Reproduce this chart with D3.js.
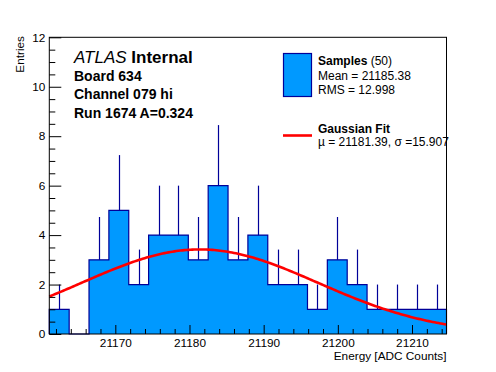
<!DOCTYPE html>
<html>
<head>
<meta charset="utf-8">
<script src="https://cdn.jsdelivr.net/npm/d3@7"></script>
<style>
  body { margin: 0; background: #fff; }
  svg { display: block; font-family: "Liberation Sans", Arial, sans-serif; }
</style>
</head>
<body>
<svg id="chart" width="496" height="372"></svg>
<script>
// Histogram data (20 bins over the axis range)
const xRange = [21161.1, 21214.65];
const binCounts = [1, 0, 3, 5, 2, 4, 4, 3, 6, 3, 4, 2, 2, 1, 3, 2, 1, 1, 1, 1];
const xMajorTicks = [21170, 21180, 21190, 21200, 21210];
const yMajorTicks = [0, 2, 4, 6, 8, 10, 12];

// Gaussian fit parameters
const fitMu = 21181.39;
const fitSigma = 15.907;
const fitAmp = 3.42;

const infoLines = ["Board 634", "Channel 079 hi", "Run 1674 A=0.324"];

//Frame geometry
const frameL = 49.3, frameR = 446.5, frameT = 37.3, frameB = 334;
const svg = d3.select("#chart");

const x = d3.scaleLinear().domain(xRange).range([frameL, frameR]);
const y = d3.scaleLinear().domain([0, 12]).range([frameB, frameT]);

const nBins = binCounts.length;
const binW = (xRange[1] - xRange[0]) / nBins;
const bins = binCounts.map((c, i) => ({
  x0: xRange[0] + i * binW,
  x1: xRange[0] + (i + 1) * binW,
  n: c
}));

//Histogram as a filled step outline
const stepPts = [[bins[0].x0, 0]];
bins.forEach((b) => {
  stepPts.push([b.x0, b.n]);
  stepPts.push([b.x1, b.n]);
});
stepPts.push([bins[nBins - 1].x1, 0]);

svg.append("path")
  .attr("d", d3.line().x((d) => x(d[0])).y((d) => y(d[1]))(stepPts))
  .attr("fill", "#0099ff")
  .attr("stroke", "#000099")
  .attr("stroke-width", 1.2);

//Error bars (upper half only visible)
svg.append("g")
  .selectAll("line")
  .data(bins.filter((b) => b.n > 0))
  .join("line")
  .attr("x1", (b) => Math.round(x((b.x0 + b.x1) / 2)) + 0.5)
  .attr("x2", (b) => Math.round(x((b.x0 + b.x1) / 2)) + 0.5)
  .attr("y1", (b) => y(b.n))
  .attr("y2", (b) => y(b.n + Math.sqrt(b.n)))
  .attr("stroke", "#000099")
  .attr("stroke-width", 1.2);

//Gaussian fit curve
const fitXs = d3.range(0, 201).map((i) => xRange[0] + (i / 200) * (xRange[1] - xRange[0]));
svg.append("path")
  .attr("d", d3.line()
    .x((v) => x(v))
    .y((v) => y(fitAmp * Math.exp(-((v - fitMu) ** 2) / (2 * fitSigma ** 2))))(fitXs))
  .attr("fill", "none")
  .attr("stroke", "#ff0000")
  .attr("stroke-width", 2.6);

//Frame
svg.append("rect")
  .attr("x", frameL).attr("y", frameT)
  .attr("width", frameR - frameL).attr("height", frameB - frameT)
  .attr("fill", "none").attr("stroke", "#000").attr("stroke-width", 1);

//Axes: ticks point inward
const xMinor = d3.range(21162, 21215, 2).filter((v) => v % 10 !== 0);
svg.append("g")
  .attr("transform", `translate(0,${frameB})`)
  .call(d3.axisBottom(x).tickValues(xMinor).tickSize(-5).tickFormat(""))
  .call((g) => g.select(".domain").remove());
svg.append("g")
  .attr("transform", `translate(0,${frameB})`)
  .call(d3.axisBottom(x).tickValues(xMajorTicks).tickSize(-9).tickPadding(4.5).tickFormat(d3.format("d")))
  .call((g) => g.select(".domain").remove())
  .call((g) => g.selectAll("text").attr("font-size", 11.8).attr("fill", "#000").attr("font-family", "Liberation Sans, Arial, sans-serif"));

const yMinor = d3.range(0, 12.01, 0.5).filter((v) => v % 2 !== 0);
svg.append("g")
  .attr("transform", `translate(${frameL},0)`)
  .call(d3.axisLeft(y).tickValues(yMinor).tickSize(-6).tickFormat(""))
  .call((g) => g.select(".domain").remove());
svg.append("g")
  .attr("transform", `translate(${frameL},0)`)
  .call(d3.axisLeft(y).tickValues(yMajorTicks).tickSize(-12).tickPadding(4).tickFormat(d3.format("d")))
  .call((g) => g.select(".domain").remove())
  .call((g) => g.selectAll("text").attr("font-size", 11.8).attr("fill", "#000").attr("font-family", "Liberation Sans, Arial, sans-serif"));

//Axis titles
svg.append("text")
  .attr("x", frameR).attr("y", 359.5)
  .attr("text-anchor", "end")
  .attr("font-size", 11.8)
  .text("Energy [ADC Counts]");

svg.append("text")
  .attr("transform", `translate(24,36) rotate(-90)`)
  .attr("text-anchor", "end")
  .attr("font-size", 11.8)
  .text("Entries");

//ATLAS label
const atlas = svg.append("text").attr("x", 74).attr("y", 62.5).attr("font-size", 17);
atlas.append("tspan").attr("font-style", "italic").text("ATLAS ");
atlas.append("tspan").attr("font-weight", "bold").text("Internal");

svg.append("g")
  .selectAll("text")
  .data(infoLines)
  .join("text")
  .attr("x", 74)
  .attr("y", (d, i) => 80.5 + i * 18.8)
  .attr("font-size", 14)
  .attr("font-weight", "bold")
  .text((d) => d);

//Legend
const leg = svg.append("g").attr("font-size", 12);
leg.append("rect")
  .attr("x", 283.5).attr("y", 53.5).attr("width", 28).attr("height", 43)
  .attr("fill", "#0099ff").attr("stroke", "#000099").attr("stroke-width", 1.2);
const s1 = leg.append("text").attr("x", 318).attr("y", 65);
s1.append("tspan").attr("font-weight", "bold").text("Samples");
s1.append("tspan").text(" (50)");
leg.append("text").attr("x", 318).attr("y", 79.5).text("Mean = 21185.38");
leg.append("text").attr("x", 318).attr("y", 93.5).text("RMS = 12.998");

leg.append("line")
  .attr("x1", 283).attr("x2", 312).attr("y1", 135.5).attr("y2", 135.5)
  .attr("stroke", "#ff0000").attr("stroke-width", 2.6);
leg.append("text").attr("x", 318).attr("y", 132.5).attr("font-weight", "bold").text("Gaussian Fit");
leg.append("text").attr("x", 318).attr("y", 145.5).text("\u00b5 = 21181.39, \u03c3 =15.907");
</script>
</body>
</html>
